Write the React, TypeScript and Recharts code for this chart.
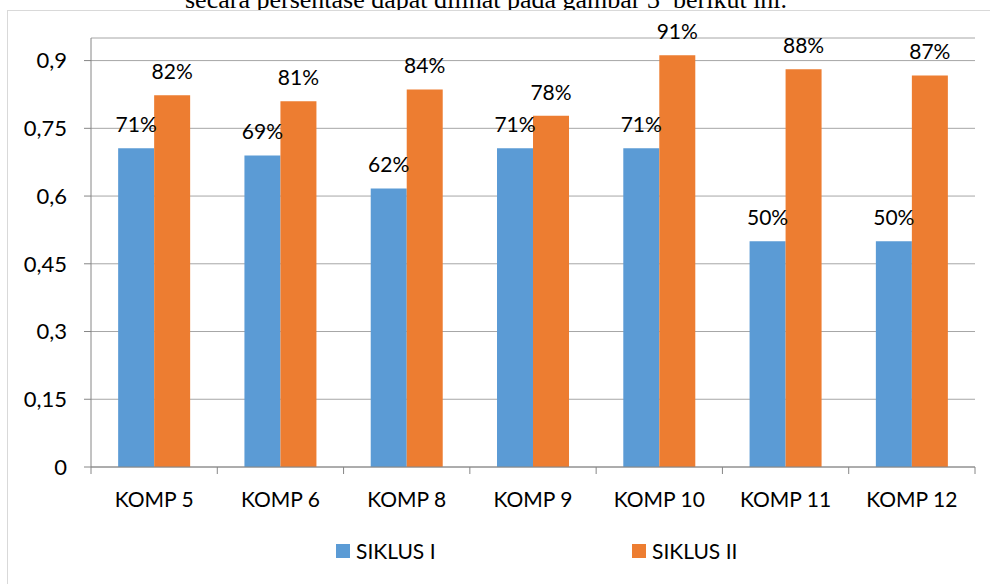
import React from "react";
import { BarChart, Bar, XAxis, YAxis, CartesianGrid, LabelList } from "recharts";

const categories = ["KOMP 5", "KOMP 6", "KOMP 8", "KOMP 9", "KOMP 10", "KOMP 11", "KOMP 12"];
const siklus1 = [0.706, 0.69, 0.617, 0.706, 0.706, 0.5, 0.5];
const siklus2 = [0.823, 0.81, 0.836, 0.778, 0.912, 0.881, 0.867];
const yTicks = [0, 0.15, 0.3, 0.45, 0.6, 0.75, 0.9];
const seriesNames = ["SIKLUS I", "SIKLUS II"];
const caption = "secara persentase dapat dilihat pada gambar 3  berikut ini.";

const data = categories.map((c, i) => ({ name: c, s1: siklus1[i], s2: siklus2[i] }));

const BLUE = "#5B9BD5";
const ORANGE = "#ED7D31";
const FONT = "Lato, 'Open Sans', sans-serif";

const fmtTick = (v: number) => String(v).replace(".", ",");
const fmtPct = (v: any) => `${Math.round(Number(v) * 100)}%`;

const XTick = (props: any) => {
  const { x, y, payload, index, visibleTicksCount } = props;
  const half = payload && payload.offset ? payload.offset : 0;
  const last = index === (visibleTicksCount ?? categories.length) - 1;
  return (
    <g>
      <line x1={x - half} x2={x - half} y1={y} y2={y + 7} stroke="#868686" />
      {last && <line x1={x + half} x2={x + half} y1={y} y2={y + 7} stroke="#868686" />}
      <text x={x} y={y + 40} textAnchor="middle" fill="#000" fontSize={21} fontFamily={FONT}>
        {payload.value}
      </text>
    </g>
  );
};

export default function App() {
  return (
    <div style={{ position: "fixed", left: 0, top: 0, width: 990, height: 584, background: "#fff", overflow: "hidden" }}>
      <div
        style={{
          position: "absolute",
          left: 185,
          top: -15,
          fontFamily: "'Liberation Serif', 'DejaVu Serif', serif",
          fontSize: 26,
          lineHeight: "normal",
          whiteSpace: "pre",
          color: "#000",
        }}
      >
        {caption}
      </div>
      <div
        style={{
          position: "absolute",
          left: 7,
          top: 10,
          width: 1000,
          height: 600,
          border: "1px solid #d9d9d9",
          boxSizing: "border-box",
          background: "#fff",
        }}
      />
      <div style={{ position: "absolute", left: 0, top: 0 }}>
        <BarChart
          width={990}
          height={584}
          data={data}
          margin={{ top: 38, right: 15, left: 0, bottom: 0 }}
          barCategoryGap="21.5%"
          barGap={0}
        >
          <CartesianGrid vertical={false} stroke="#a6a6a6" />
          <XAxis
            dataKey="name"
            height={117}
            tickSize={0}
            tickMargin={0}
            tickLine={false}
            axisLine={{ stroke: "#868686" }}
            tick={<XTick />}
            interval={0}
          />
          <YAxis
            width={91}
            domain={[0, 0.95]}
            ticks={yTicks}
            tickFormatter={fmtTick}
            tickSize={7}
            tickMargin={17}
            axisLine={{ stroke: "#868686" }}
            tickLine={{ stroke: "#868686" }}
            tick={{ fill: "#000", fontSize: 22, fontFamily: FONT }}
            interval={0}
          />
          <Bar dataKey="s1" name={seriesNames[0]} fill={BLUE} isAnimationActive={false}>
            <LabelList dataKey="s1" position="top" offset={16} formatter={fmtPct} fill="#000" fontSize={21} fontFamily={FONT} />
          </Bar>
          <Bar dataKey="s2" name={seriesNames[1]} fill={ORANGE} isAnimationActive={false}>
            <LabelList dataKey="s2" position="top" offset={16} formatter={fmtPct} fill="#000" fontSize={21} fontFamily={FONT} />
          </Bar>
        </BarChart>
      </div>
      {[{ name: seriesNames[0], color: BLUE, left: 336 }, { name: seriesNames[1], color: ORANGE, left: 632 }].map((s) => (
        <div key={s.name} style={{ position: "absolute", left: s.left, top: 538, display: "flex", alignItems: "center", fontFamily: FONT, fontSize: 21, color: "#000" }}>
          <span style={{ display: "inline-block", width: 14, height: 14, background: s.color, marginRight: 6 }} />
          <span>{s.name}</span>
        </div>
      ))}
    </div>
  );
}
